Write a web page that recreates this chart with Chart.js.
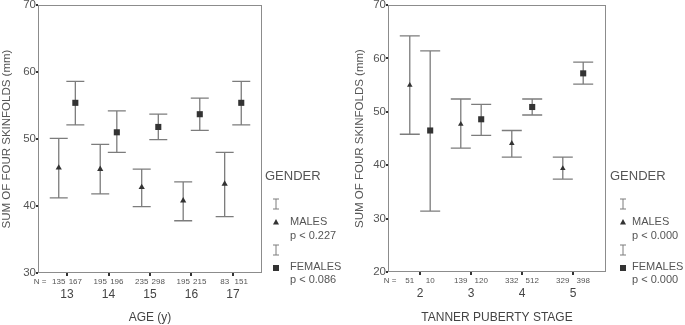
<!DOCTYPE html>
<html>
<head>
<meta charset="utf-8">
<script src="https://cdn.jsdelivr.net/npm/chart.js@4.4.0/dist/chart.umd.min.js"></script>
<style>
  html, body { margin: 0; padding: 0; background: #fff; }
  #wrap { position: relative; width: 685px; height: 325px; overflow: hidden; }
  canvas { position: absolute; top: 0; }
  #c1 { left: 0; }
  #c2 { left: 345px; }
</style>
</head>
<body>
<div id="wrap">
  <canvas id="c1" width="345" height="325"></canvas>
  <canvas id="c2" width="340" height="325"></canvas>
</div>
<script>
// left panel: by age
const ageCats = [13, 14, 15, 16, 17];
const ageMaleMean = [45.7, 45.5, 42.8, 40.8, 43.3];
const ageMaleLo = [41.2, 41.8, 39.9, 37.8, 38.4];
const ageMaleHi = [50.1, 49.2, 45.5, 43.6, 48.0];
const ageFemMean = [55.4, 51.0, 51.8, 53.7, 55.4];
const ageFemLo = [52.1, 48.0, 49.9, 51.3, 52.1];
const ageFemHi = [58.6, 54.2, 53.7, 56.1, 58.6];
const ageMaleN = [135, 195, 235, 195, 83];
const ageFemN = [167, 196, 298, 215, 151];
const ageYTicks = [30, 40, 50, 60, 70];

// right panel: by Tanner stage
const tanCats = [2, 3, 4, 5];
const tanMaleMean = [55.0, 47.7, 44.1, 39.4];
const tanMaleLo = [45.8, 43.2, 41.5, 37.4];
const tanMaleHi = [64.2, 52.4, 46.5, 41.5];
const tanFemMean = [46.5, 48.6, 50.9, 57.2];
const tanFemLo = [31.4, 45.6, 49.4, 55.2];
const tanFemHi = [61.4, 51.4, 52.4, 59.3];
const tanMaleN = [51, 139, 332, 329];
const tanFemN = [10, 120, 512, 398];
const tanYTicks = [20, 30, 40, 50, 60, 70];

const FONT = "'Liberation Sans', Arial, Helvetica, sans-serif";
const TXT = "#555";
const BAR = "#7c7c7c";
const MARK = "#333";
Chart.defaults.font.family = FONT;
Chart.defaults.color = TXT;

const DX = 0.2;

const skinPlugin = {
  id: "skin",
  beforeDatasetsDraw(chart, args, o) {
    const { ctx, chartArea: a, scales: { x, y } } = chart;
    ctx.save();
    ctx.strokeStyle = "#8c8c8c";
    ctx.lineWidth = 1;
    ctx.strokeRect(a.left + 0.5, a.top + 0.5, a.width - 1, a.height - 1);

    ctx.strokeStyle = BAR;
    ctx.lineWidth = 1.3;
    o.groups.forEach(g => {
      g.lo.forEach((lo, i) => {
        const px = x.getPixelForValue(o.cats[i] + g.dx);
        const yl = y.getPixelForValue(lo);
        const yh = y.getPixelForValue(g.hi[i]);
        ctx.beginPath();
        ctx.moveTo(px, yl); ctx.lineTo(px, yh);
        ctx.moveTo(px - o.cap, yl); ctx.lineTo(px + o.cap, yl);
        ctx.moveTo(px - o.cap, yh); ctx.lineTo(px + o.cap, yh);
        ctx.stroke();
      });
    });
    ctx.restore();
  },
  afterDraw(chart, args, o) {
    const { ctx, chartArea: a, scales: { x } } = chart;
    ctx.save();
    ctx.fillStyle = TXT;
    ctx.textBaseline = "middle";
    ctx.textAlign = "center";
    ctx.font = "8px " + FONT;
    const ny = a.bottom + 9;
    ctx.fillText("N =", a.left + 2, ny);
    o.cats.forEach((c, i) => {
      ctx.fillText(String(o.nMale[i]), x.getPixelForValue(c - DX), ny);
      ctx.fillText(String(o.nFem[i]), x.getPixelForValue(c + DX), ny);
    });

    // legend
    const L = o.legend;
    ctx.textAlign = "left";
    ctx.font = "13px " + FONT;
    ctx.fillText("GENDER", L.gx, 176);
    ctx.font = "11px " + FONT;
    ctx.fillText("MALES", L.tx, 222);
    ctx.fillText(o.pMale, L.tx, 236);
    ctx.fillText("FEMALES", L.tx, 267);
    ctx.fillText(o.pFem, L.tx, 280);

    ctx.strokeStyle = BAR;
    ctx.lineWidth = 1;
    [[199, 209], [245, 255]].forEach(([t, b]) => {
      ctx.beginPath();
      ctx.moveTo(L.ix, t); ctx.lineTo(L.ix, b);
      ctx.moveTo(L.ix - 3, t); ctx.lineTo(L.ix + 3, t);
      ctx.moveTo(L.ix - 3, b); ctx.lineTo(L.ix + 3, b);
      ctx.stroke();
    });
    ctx.fillStyle = MARK;
    ctx.beginPath();
    ctx.moveTo(L.ix, 219); ctx.lineTo(L.ix + 3, 224.5); ctx.lineTo(L.ix - 3, 224.5);
    ctx.closePath();
    ctx.fill();
    ctx.fillRect(L.ix - 3, 265, 6, 6);
    ctx.restore();
  }
};

function makeChart(el, c) {
  const groups = [
    { dx: -DX, mean: c.maleMean, lo: c.maleLo, hi: c.maleHi },
    { dx: DX, mean: c.femMean, lo: c.femLo, hi: c.femHi },
  ];
  return new Chart(el, {
    type: "scatter",
    data: {
      datasets: [
        {
          data: c.cats.map((v, i) => ({ x: v - DX, y: c.maleMean[i] })),
          pointStyle: "triangle", pointRadius: c.triR, backgroundColor: MARK, borderWidth: 0,
        },
        {
          data: c.cats.map((v, i) => ({ x: v + DX, y: c.femMean[i] })),
          pointStyle: "rect", pointRadius: c.rectR, backgroundColor: MARK, borderWidth: 0,
        },
      ],
    },
    options: {
      responsive: false,
      animation: false,
      events: [],
      layout: { padding: { left: 0, right: c.padRight, top: 5, bottom: 0 } },
      plugins: {
        legend: { display: false },
        tooltip: { enabled: false },
        skin: {
          groups, cats: c.cats, cap: c.cap, nMale: c.maleN, nFem: c.femN,
          pMale: c.pMale, pFem: c.pFem, legend: c.legend,
        },
      },
      scales: {
        x: {
          type: "linear",
          min: c.xMin, max: c.xMax,
          afterBuildTicks: s => { s.ticks = c.cats.map(v => ({ value: v })); },
          afterFit: s => { s.height = 325 - c.bottomY; s.paddingLeft = 0; s.paddingRight = 0; },
          grid: { drawOnChartArea: false, drawTicks: true, tickLength: 3, lineWidth: 2, color: MARK },
          border: { display: false },
          ticks: { padding: 11, color: "#444", font: { size: 12 }, maxRotation: 0, callback: v => String(v) },
          title: { display: true, text: c.xTitle, color: "#444", font: { size: 12 }, padding: { top: 0, bottom: 0 } },
        },
        y: {
          min: c.yTicks[0], max: c.yTicks[c.yTicks.length - 1],
          afterBuildTicks: s => { s.ticks = c.yTicks.map(v => ({ value: v })); },
          afterFit: s => { s.width = c.leftX; s.paddingTop = 0; s.paddingBottom = 0; },
          grid: { drawOnChartArea: false, drawTicks: true, tickLength: 2, lineWidth: 2, color: MARK },
          border: { display: false },
          ticks: { padding: 0, color: TXT, font: { size: 11.5 } },
          title: {
            display: true, text: "SUM OF FOUR SKINFOLDS (mm)", color: TXT,
            font: { size: 11.5 }, padding: { top: c.titlePad, bottom: 0 },
          },
        },
      },
    },
    plugins: [skinPlugin],
  });
}

makeChart(document.getElementById("c1"), {
  cats: ageCats, maleMean: ageMaleMean, maleLo: ageMaleLo, maleHi: ageMaleHi,
  femMean: ageFemMean, femLo: ageFemLo, femHi: ageFemHi, maleN: ageMaleN, femN: ageFemN,
  yTicks: ageYTicks, xMin: 12.3, xMax: 17.7, xTitle: "AGE (y)",
  pMale: "p < 0.227", pFem: "p < 0.086",
  leftX: 38, padRight: 83, bottomY: 273, titlePad: 0, cap: 9, triR: 3.6, rectR: 4.3,
  legend: { gx: 265, ix: 276, tx: 290 },
});

makeChart(document.getElementById("c2"), {
  cats: tanCats, maleMean: tanMaleMean, maleLo: tanMaleLo, maleHi: tanMaleHi,
  femMean: tanFemMean, femLo: tanFemLo, femHi: tanFemHi, maleN: tanMaleN, femN: tanFemN,
  yTicks: tanYTicks, xMin: 1.373, xMax: 5.647, xTitle: "TANNER PUBERTY STAGE",
  pMale: "p < 0.000", pFem: "p < 0.000",
  leftX: 43, padRight: 79, bottomY: 272, titlePad: 8, cap: 10, triR: 3.2, rectR: 4.3,
  legend: { gx: 265, ix: 278, tx: 287 },
});
</script>
</body>
</html>
